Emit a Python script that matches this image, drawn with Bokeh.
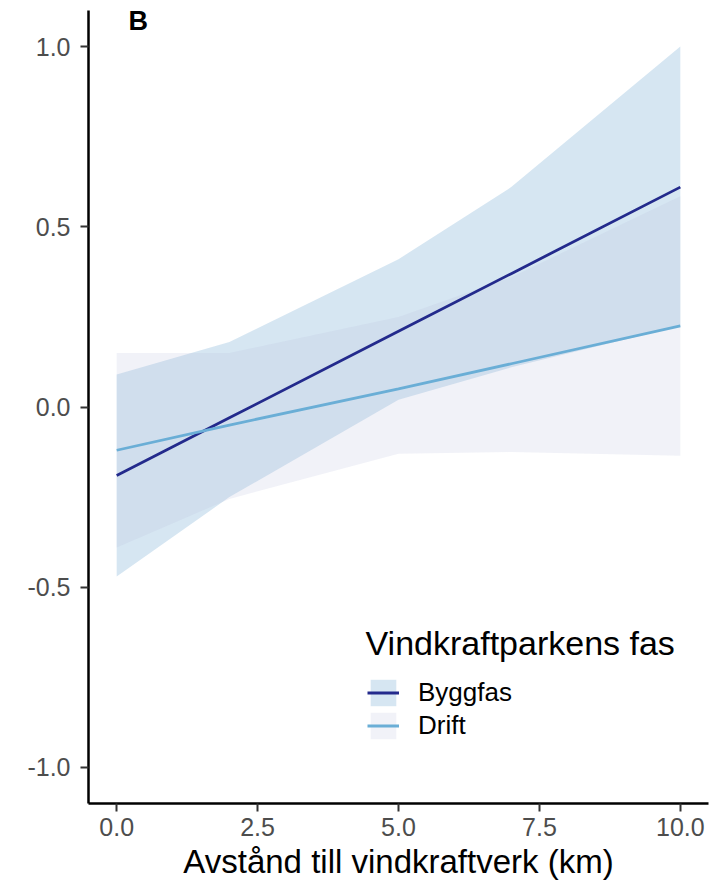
from bokeh.plotting import figure
from bokeh.models import Range1d, FixedTicker, Legend, LegendItem, Label, ColumnDataSource
from bokeh.embed import file_html
from bokeh.resources import INLINE

# ---- data ----
distance = [0, 2, 5, 7, 10]

bygg_fit = [-0.19, -0.03, 0.21, 0.37, 0.61]
bygg_lower = [-0.47, -0.25, 0.02, 0.11, 0.225]
bygg_upper = [0.09, 0.18, 0.41, 0.61, 1.0]

drift_fit = [-0.12, -0.05, 0.05, 0.12, 0.225]
drift_lower = [-0.39, -0.255, -0.13, -0.125, -0.135]
drift_upper = [0.15, 0.15, 0.25, 0.36, 0.585]

x_ticks = [0, 2.5, 5, 7.5, 10]
x_tick_labels = ["0.0", "2.5", "5.0", "7.5", "10.0"]
y_ticks = [-1, -0.5, 0, 0.5, 1]
y_tick_labels = ["-1.0", "-0.5", "0.0", "0.5", "1.0"]

series_names = ["Byggfas", "Drift"]
x_title = "Avstånd till vindkraftverk (km)"
legend_title = "Vindkraftparkens fas"
panel_tag = "B"

FONT = "Liberation Sans"
BYGG_LINE = "#232a8c"
DRIFT_LINE = "#6aaed6"
BYGG_FILL = "#3282be"
DRIFT_FILL = "#b9bedc"

p = figure(frame_width=620, frame_height=793,
           x_range=Range1d(-0.5, 10.5), y_range=Range1d(-1.1, 1.1),
           output_backend="svg", toolbar_location=None,
           min_border_left=88, min_border_right=8, min_border_top=10, min_border_bottom=80,
           background_fill_color="white", border_fill_color="white")
p.outline_line_color = None
p.xgrid.visible = False
p.ygrid.visible = False

src_b = ColumnDataSource(dict(x=distance, lo=bygg_lower, hi=bygg_upper, fit=bygg_fit))
src_d = ColumnDataSource(dict(x=distance, lo=drift_lower, hi=drift_upper, fit=drift_fit))

band_b = p.varea(x="x", y1="lo", y2="hi", source=src_b, fill_color=BYGG_FILL, fill_alpha=0.2)
band_d = p.varea(x="x", y1="lo", y2="hi", source=src_d, fill_color=DRIFT_FILL, fill_alpha=0.2)
line_b = p.line(x="x", y="fit", source=src_b, line_color=BYGG_LINE, line_width=2.8)
line_d = p.line(x="x", y="fit", source=src_d, line_color=DRIFT_LINE, line_width=2.8)

for ax in (p.xaxis[0], p.yaxis[0]):
    ax.axis_line_color = "black"
    ax.axis_line_width = 2.5
    ax.major_tick_line_color = "#333333"
    ax.major_tick_line_width = 2
    ax.major_tick_out = 8
    ax.major_tick_in = 0
    ax.minor_tick_line_color = None
    ax.major_label_text_font = FONT
    ax.major_label_text_font_size = "25px"
    ax.major_label_text_color = "#4d4d4d"

p.xaxis[0].ticker = FixedTicker(ticks=x_ticks)
p.xaxis[0].major_label_overrides = {t: l for t, l in zip(x_ticks, x_tick_labels)}
p.xaxis[0].major_label_standoff = 6
p.xaxis[0].axis_label = x_title
p.xaxis[0].axis_label_text_font = FONT
p.xaxis[0].axis_label_text_font_size = "33px"
p.xaxis[0].axis_label_text_font_style = "normal"
p.xaxis[0].axis_label_text_color = "black"
p.xaxis[0].axis_label_standoff = 4

p.yaxis[0].ticker = FixedTicker(ticks=y_ticks)
p.yaxis[0].major_label_overrides = {t: l for t, l in zip(y_ticks, y_tick_labels)}
p.yaxis[0].major_label_standoff = 10

legend = Legend(items=[LegendItem(label=series_names[0], renderers=[band_b, line_b]),
                       LegendItem(label=series_names[1], renderers=[band_d, line_d])],
                location=(279, 61))
legend.label_text_font = FONT
legend.label_text_font_size = "26px"
legend.label_text_color = "black"
legend.label_standoff = 19
legend.glyph_width = 32
legend.glyph_height = 33
legend.label_height = 33
legend.spacing = 0
legend.padding = 0
legend.margin = 0
legend.border_line_color = None
legend.background_fill_alpha = 0
p.add_layout(legend, "center")

legend_head = Label(x=4.415, y=-0.654, text=legend_title, text_font=FONT, text_font_size="34px",
                    text_font_style="normal", text_color="black", text_align="left",
                    text_baseline="alphabetic")
p.add_layout(legend_head)

tag = Label(x=0.21, y=1.072, text=panel_tag, text_font=FONT, text_font_size="27px",
            text_font_style="bold", text_color="black", text_align="left",
            text_baseline="alphabetic")
p.add_layout(tag)

open("out.html", "w").write(file_html(p, INLINE))
